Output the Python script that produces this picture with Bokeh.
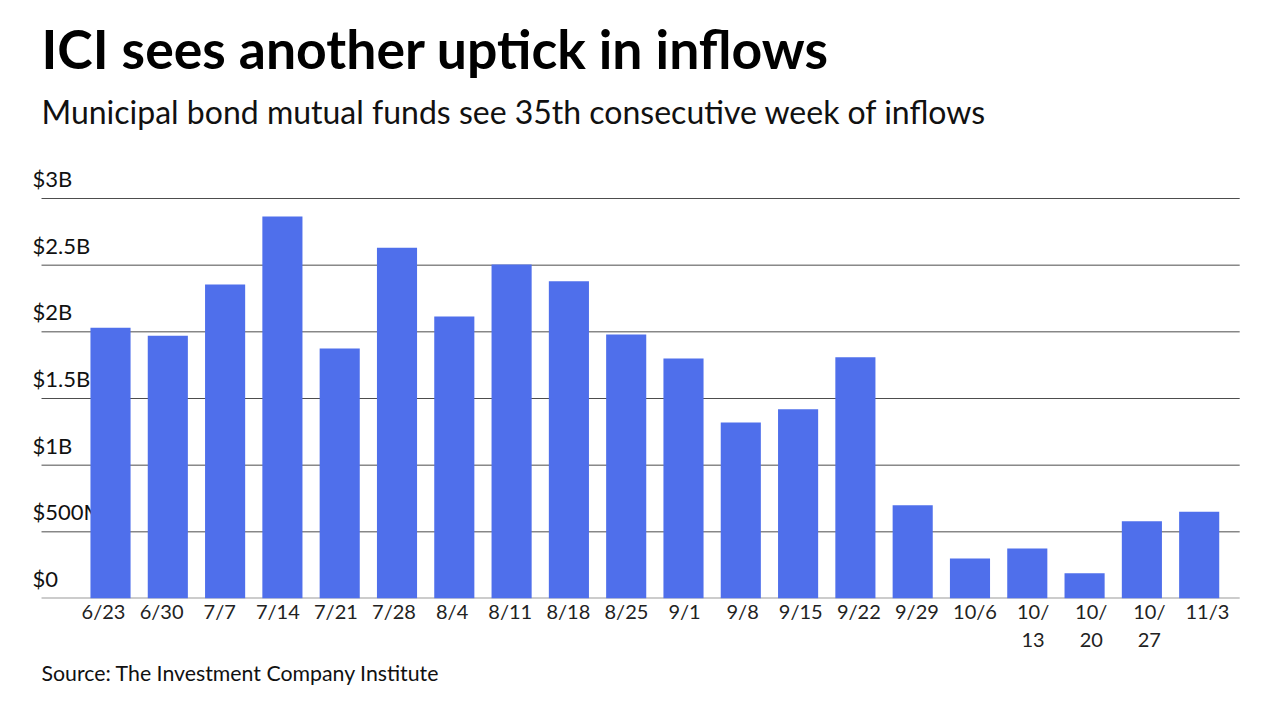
from bokeh.plotting import figure
from bokeh.models import Range1d, FixedTicker, Label, ColumnDataSource, Title
from bokeh.core.properties import value
from bokeh.embed import file_html
from bokeh.resources import INLINE

weeks = ["6/23", "6/30", "7/7", "7/14", "7/21", "7/28", "8/4", "8/11", "8/18", "8/25",
         "9/1", "9/8", "9/15", "9/22", "9/29", "10/6", "10/\n13", "10/\n20", "10/\n27", "11/3"]
inflows_bn = [2.03, 1.97, 2.355, 2.865, 1.875, 2.63, 2.115, 2.505, 2.38, 1.98,
              1.80, 1.32, 1.42, 1.81, 0.70, 0.30, 0.375, 0.19, 0.58, 0.65]
y_ticks = [0, 0.5, 1, 1.5, 2, 2.5, 3]
y_tick_labels = ["$0", "$500M", "$1B", "$1.5B", "$2B", "$2.5B", "$3B"]

FONT = "Lato"
W, H = 1264, 704
FRAME_BOTTOM = 598
x_idx = list(range(len(weeks)))
# the reference's category labels are spread slightly wider than its bars
label_pos = [round(-0.122 + i * 1.014, 4) for i in x_idx]

p = figure(width=W, height=H, output_backend="svg", toolbar_location=None,
           x_range=Range1d(-1.920, 20.14), y_range=Range1d(0, 4.485),
           y_axis_location=None, min_border_left=0, min_border_right=0,
           min_border_top=0, min_border_bottom=H - FRAME_BOTTOM)
p.outline_line_color = None
p.xgrid.visible = False
p.ygrid.visible = False
p.background_fill_color = "white"

grid_x0, grid_x1 = -1.204, 19.707
# gridlines
p.segment(x0=[grid_x0] * 6, x1=[grid_x1] * 6, y0=y_ticks[1:], y1=y_ticks[1:],
          line_color="#4d4d4d", line_width=1)
p.segment(x0=[grid_x0], x1=[grid_x1], y0=[0], y1=[0], line_color="#9a9a9a", line_width=2)

# y labels (drawn before bars so bars overlap them)
p.text(x=[-1.361] * len(y_ticks), y=y_ticks, text=y_tick_labels,
       text_font=value(FONT), text_font_size="22px", text_color="#111111",
       text_baseline="alphabetic", text_align="left", y_offset=-20)

src = ColumnDataSource(dict(x=x_idx, top=inflows_bn))
p.vbar(x="x", top="top", bottom=0, width=0.7, source=src,
       fill_color="#4F6FEB", line_color=None)

ax = p.xaxis[0]
ax.ticker = FixedTicker(ticks=label_pos)
ax.major_label_overrides = {pos: w for pos, w in zip(label_pos, weeks)}
ax.axis_line_color = None
ax.major_tick_line_color = None
ax.minor_tick_line_color = None
ax.major_label_text_font = FONT
ax.major_label_text_font_size = "20px"
ax.major_label_text_color = "#222222"
ax.major_label_standoff = -6

def add_label(text, fig_y, size, style="normal", color="#111111", x=41):
    p.add_layout(Label(x=x, y=FRAME_BOTTOM - fig_y, x_units="screen", y_units="screen",
                       text=text, text_font=FONT, text_font_size=size,
                       text_font_style=style, text_color=color,
                       text_baseline="alphabetic", text_align="left"))

add_label("ICI sees another uptick in inflows", 47, "53.5px", "bold", "#000000")
add_label("Municipal bond mutual funds see 35th consecutive week of inflows", 111, "32px")

source_title = Title(text="Source: The Investment Company Institute", align="left",
                     offset=41, standoff=7, text_font=FONT, text_font_size="21.3px",
                     text_font_style="normal", text_color="#111111")
p.add_layout(source_title, "below")

open("out.html", "w").write(file_html(p, INLINE))
